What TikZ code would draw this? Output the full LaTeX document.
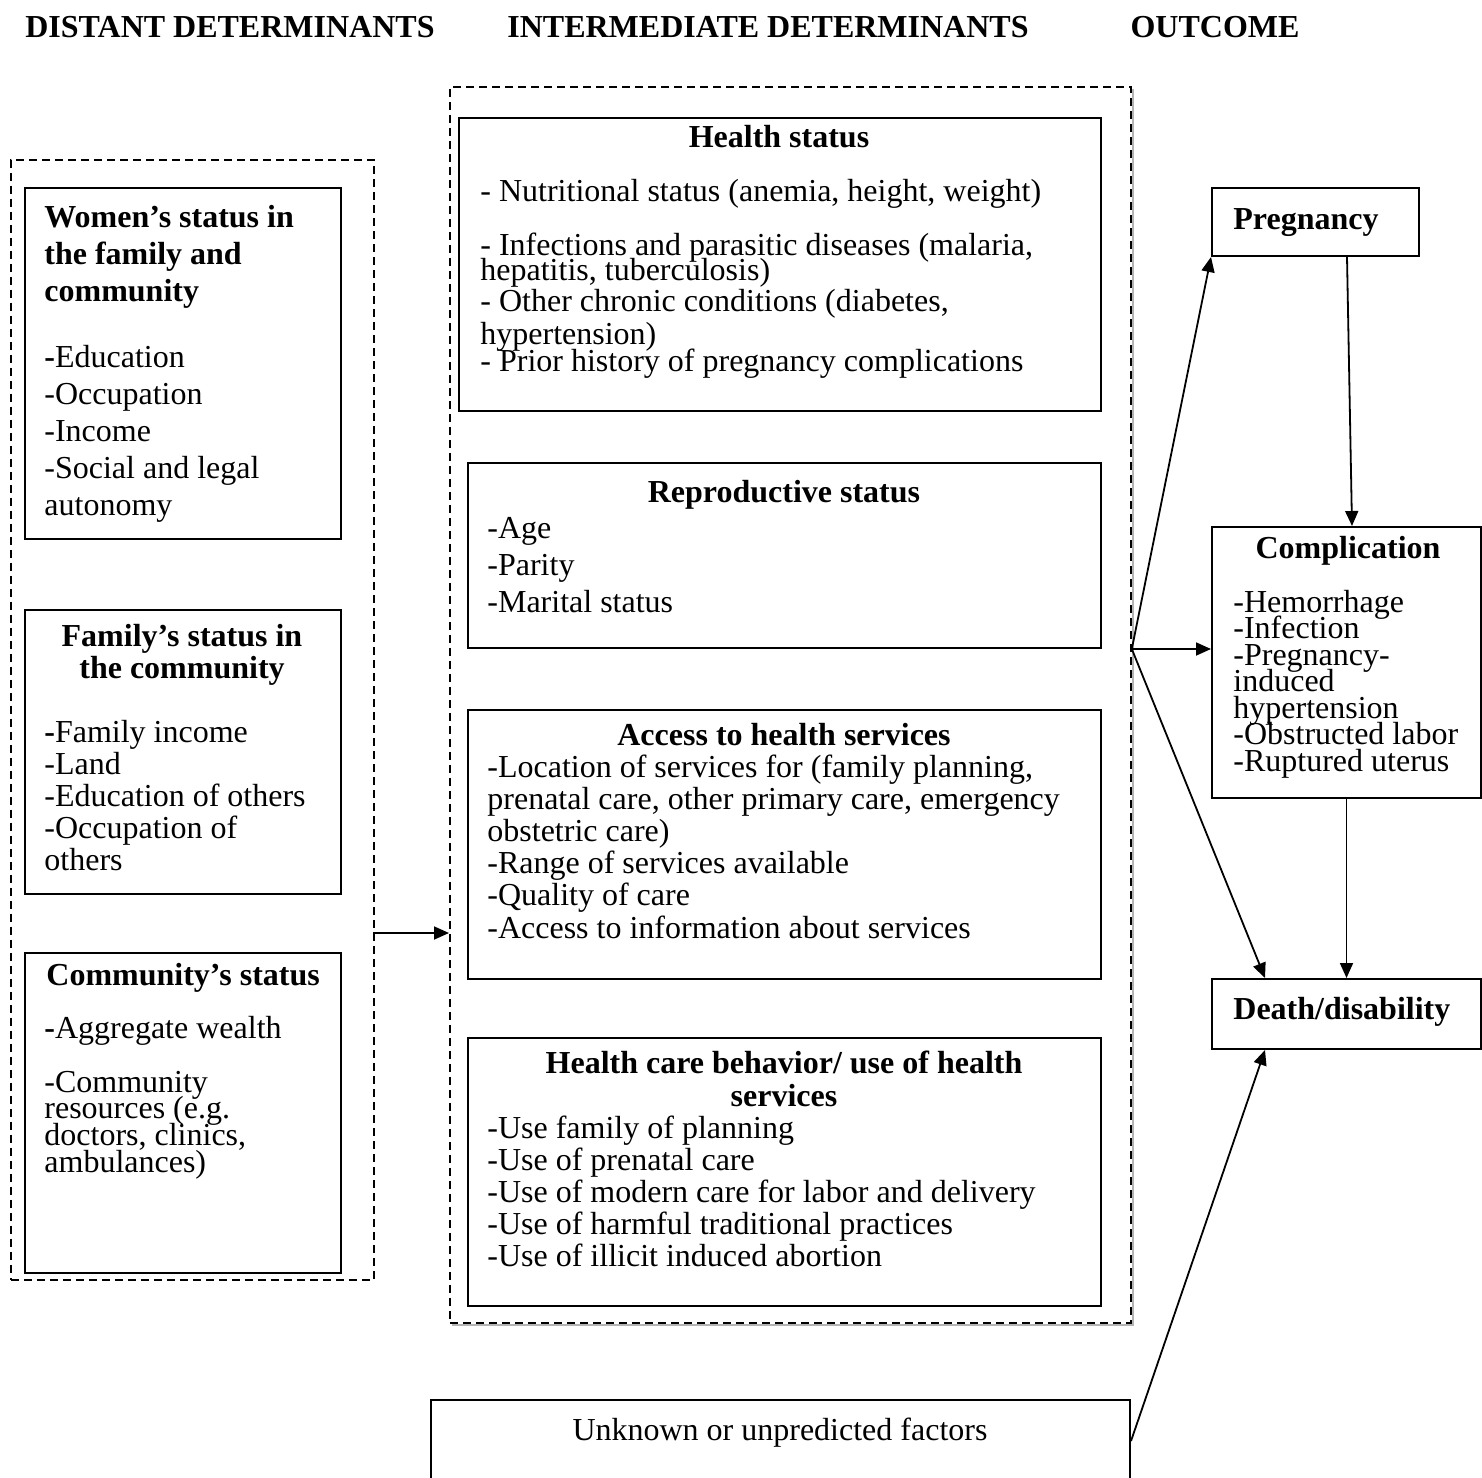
\documentclass[tikz,border=0pt]{standalone}
\usepackage{fontspec}
\setmainfont{Liberation Serif}
\usetikzlibrary{arrows.meta,positioning}
\definecolor{shadowgray}{HTML}{B4B4B4}
\tikzstyle{arrow} = [-{Triangle[length=7.5pt,width=6.5pt]}, line width=0.9pt]
\tikzstyle{box} = [draw, line width=1pt, rectangle, inner sep=0pt, anchor=north west]
\tikzstyle{group} = [box, line width=0.9pt, dash pattern=on 4pt off 2.5pt]
\tikzstyle{head} = [inner sep=0pt, anchor=base, font=\fontsize{16pt}{19pt}\selectfont\bfseries]
\newcommand{\tightlines}{\lineskiplimit=-100pt\lineskip=0pt}
\tikzset{
  txt/.style={inner sep=0pt, anchor=base west, align=left, font=\fontsize{16pt}{#1}\selectfont\tightlines},
  txt/.default=18.5pt,
  ttl/.style={inner sep=0pt, anchor=base, align=center, font=\fontsize{16pt}{#1}\selectfont\bfseries\tightlines},
  ttl/.default=18.5pt
}

\begin{document}
\begin{tikzpicture}[x=0.5pt,y=-0.5pt]
\useasboundingbox (0,0) rectangle (1482,1477);
\node[head] at (230,38) (hd0) {DISTANT DETERMINANTS};
\node[head] at (768,38) (hd1) {INTERMEDIATE DETERMINANTS};
\node[head] at (1215,38) (hd2) {OUTCOME};
% distant determinants (text nodes sit on the baseline of their last line)
\node[group, minimum width=181.5pt, minimum height=560pt] at (10,159) (distant) {};
\node[box, minimum width=158pt, minimum height=175.5pt] at (24,187) (women) {};
\node[ttl, anchor=base west, align=left] at (44,301) (womenttl) {Women’s status in\\the family and\\community};
\node[txt] at (44,515) (womenlist) {{\bfseries -}Education\\-Occupation\\-Income\\-Social and legal\\autonomy};
\node[box, minimum width=158pt, minimum height=142pt] at (24,609) (family) {};
\node[ttl={16pt}] at (182,678) (familyttl) {Family’s status in\\the community};
\node[txt={16pt}] at (44,870) (familylist) {{\bfseries -}Family income\\-Land\\-Education of others\\-Occupation of\\others};
\node[box, minimum width=158pt, minimum height=160pt] at (24,952) (community) {};
\node[ttl, anchor=base west] at (46,985) (communityttl) {Community’s status};
\node[txt] at (44,1038) (wealth) {{\bfseries -}Aggregate wealth};
\node[txt={13.3pt}] at (44,1172) (resources) {-Community\\resources (e.g.\\doctors, clinics,\\ambulances)};
% intermediate determinants
\draw[shadowgray, line width=1pt] (1133,89) -- (1133,1325) -- (452,1325);
\node[group, minimum width=340.5pt, minimum height=618pt] at (449,86) (intermediate) {};
\node[box, minimum width=321pt, minimum height=146.5pt] at (458,117) (health) {};
\node[ttl] at (779,148) (healthttl) {Health status};
\node[txt={12.5pt}] at (480,371) (healthlist) {- Nutritional status (anemia, height, weight)\\[14.5pt]- Infections and parasitic diseases (malaria,\\hepatitis, tuberculosis)\\[3pt]- Other chronic conditions (diabetes,\\[4pt]hypertension)\\[1pt]- Prior history of pregnancy complications};
\node[box, minimum width=316.5pt, minimum height=92.5pt] at (467,462) (repro) {};
\node[ttl] at (784,502) (reprottl) {Reproductive status};
\node[txt] at (487,612) (reprolist) {-Age\\-Parity\\-Marital status};
\node[box, minimum width=316.5pt, minimum height=134.5pt] at (467,709) (access) {};
\node[ttl] at (784,745) (accessttl) {Access to health services};
\node[txt={16.1pt}] at (487,938) (accesslist) {-Location of services for (family planning,\\prenatal care, other primary care, emergency\\obstetric care)\\-Range of services available\\-Quality of care\\-Access to information about services};
\node[box, minimum width=316.5pt, minimum height=134pt] at (467,1037) (behav) {};
\node[ttl={16.5pt}] at (784,1106) (behavttl) {Health care behavior/ use of health\\services};
\node[txt={16pt}] at (487,1266) (behavlist) {-Use family of planning\\-Use of prenatal care\\-Use of modern care for labor and delivery\\-Use of harmful traditional practices\\-Use of illicit induced abortion};
% unknown factors
\node[box, minimum width=349.5pt, minimum height=41pt] at (430,1399) (unknown) {};
\node[txt, anchor=base] at (780,1440) (unknowntxt) {Unknown or unpredicted factors};
% outcome
\node[box, minimum width=103.5pt, minimum height=34pt] at (1211,187) (preg) {};
\node[ttl, anchor=base west] at (1233,229) (pregttl) {Pregnancy};
\node[box, minimum width=134.5pt, minimum height=135.5pt] at (1211,526) (compl) {};
\node[ttl] at (1348,558) (complttl) {Complication};
\node[txt={13.25pt}] at (1233,771) (compllist) {-Hemorrhage\\-Infection\\-Pregnancy-\\induced\\hypertension\\-Obstructed labor\\-Ruptured uterus};
\node[box, minimum width=134.5pt, minimum height=35pt] at (1211,978) (death) {};
\node[ttl, anchor=base west] at (1233,1019) (deathttl) {Death/disability};
% connectors
\coordinate (split) at (373,933);
\coordinate (fan) at (intermediate.east |- repro.south);
\draw[arrow] (split) -- (split -| intermediate.west);
\draw[arrow] (fan) -- (preg.south west);
\draw[arrow] (fan) -- (fan -| compl.west);
\draw[arrow] (fan) -- ([xshift=27pt]death.north west);
\draw[arrow] ([xshift=68pt]preg.south west) -- ([xshift=70.5pt]compl.north west);
\draw[arrow] (compl.south) -- (compl.south |- death.north);
\draw[arrow] (unknown.east) -- ([xshift=27pt]death.south west);
\end{tikzpicture}
\end{document}
